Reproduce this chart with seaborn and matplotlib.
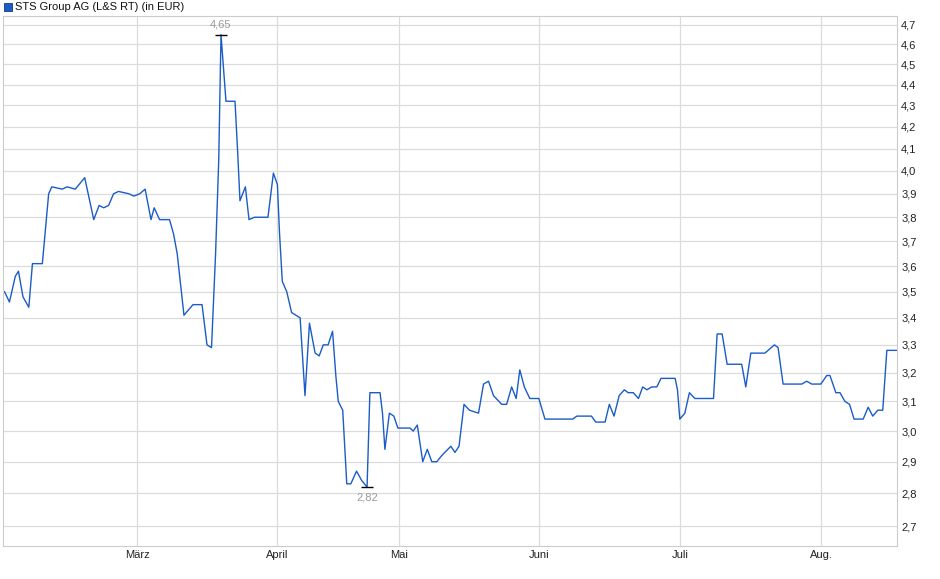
import numpy as np
import pandas as pd
import matplotlib
matplotlib.use("Agg")
import matplotlib.pyplot as plt
import seaborn as sns

# ---- data (month, fractional day of month, price in EUR) ----
months = [1, 1, 2, 2, 2, 2, 2, 2, 2, 2, 2, 2, 2, 2, 2, 2, 2, 2, 2, 2, 2, 2, 3, 3, 3, 3, 3, 3, 3, 3, 3, 3, 3, 3, 3, 3, 3, 3, 3, 3, 3, 3, 3, 3, 3, 3, 3, 3,
          4, 4, 4, 4, 4, 4, 4, 4, 4, 4, 4, 4, 4, 4, 4, 4, 4, 4, 4, 4, 4, 4, 4, 4, 4, 4, 4, 4,
          5, 5, 5, 5, 5, 5, 5, 5, 5, 5, 5, 5, 5, 5, 5, 5, 5, 5, 5, 5, 5, 5, 5, 5, 5,
          6, 6, 6, 6, 6, 6, 6, 6, 6, 6, 6, 6, 6, 6, 6, 6, 6, 6, 6, 6, 6,
          7, 7, 7, 7, 7, 7, 7, 7, 7, 7, 7, 7, 7, 7, 7, 7, 7, 7, 7, 7,
          8, 8, 8, 8, 8, 8, 8, 8, 8, 8, 8, 8, 8, 8, 8]
days = [30.6, 31.7, 2.0, 2.7, 3.7, 5.0, 5.8, 8.0, 9.4, 10.1, 12.4, 13.5, 15.3, 17.4, 19.4, 20.6, 21.6, 22.7, 23.8, 24.9, 27.2, 28.3,
        1.6, 2.8, 4.1, 4.8, 6.0, 8.2, 9.1, 9.9, 11.4, 13.4, 15.4, 16.5, 17.5, 18.4, 19.1, 19.6, 20.1, 20.7, 22.7, 23.3, 23.8, 25.0, 25.8, 27.0, 30.0, 31.2,
        1.1, 1.6, 2.3, 3.4, 4.6, 6.7, 7.9, 9.0, 10.4, 11.4, 12.4, 13.6, 14.7, 15.5, 16.1, 17.2, 18.2, 19.2, 20.6, 21.9, 23.2, 23.9, 26.4, 27.0, 27.6, 28.7, 29.8, 30.8,
        3.5, 4.2, 5.1, 6.3, 7.3, 8.3, 9.4, 10.5, 12.5, 13.4, 14.3, 15.4, 16.6, 18.6, 19.7, 20.8, 21.9, 23.7, 24.8, 25.9, 26.9, 27.7, 28.7, 29.9, 31.9,
        2.2, 8.1, 9.0, 12.1, 13.0, 15.0, 15.9, 16.9, 18.0, 19.1, 19.9, 21.0, 22.1, 23.0, 23.9, 24.9, 26.0, 26.9, 29.9, 30.4, 30.9,
        2.0, 3.0, 4.2, 8.3, 8.8, 9.1, 10.2, 11.3, 14.5, 15.4, 16.5, 19.6, 20.3, 21.7, 22.5, 23.6, 27.7, 28.8, 29.9, 31.9,
        2.2, 2.9, 4.2, 5.1, 6.2, 7.2, 8.2, 10.2, 11.3, 12.3, 13.4, 14.5, 15.4, 17.6, 17.9]
prices = [3.50, 3.46, 3.56, 3.58, 3.48, 3.44, 3.61, 3.61, 3.90, 3.93, 3.92, 3.93, 3.92, 3.97, 3.79, 3.85, 3.84, 3.85, 3.90, 3.91, 3.90, 3.89,
          3.90, 3.92, 3.79, 3.84, 3.79, 3.79, 3.73, 3.65, 3.41, 3.45, 3.45, 3.30, 3.29, 3.65, 4.05, 4.65, 4.50, 4.32, 4.32, 4.08, 3.87, 3.93, 3.79, 3.80, 3.80, 3.99,
          3.94, 3.74, 3.54, 3.50, 3.42, 3.40, 3.12, 3.38, 3.27, 3.26, 3.30, 3.30, 3.35, 3.19, 3.10, 3.07, 2.83, 2.83, 2.87, 2.84, 2.82, 3.13, 3.13, 3.06, 2.94, 3.06, 3.05, 3.01,
          3.01, 3.00, 3.02, 2.90, 2.94, 2.90, 2.90, 2.92, 2.95, 2.93, 2.95, 3.09, 3.07, 3.06, 3.16, 3.17, 3.12, 3.09, 3.09, 3.15, 3.11, 3.21, 3.15, 3.11, 3.11,
          3.04, 3.04, 3.05, 3.05, 3.03, 3.03, 3.09, 3.05, 3.12, 3.14, 3.13, 3.13, 3.11, 3.15, 3.14, 3.15, 3.15, 3.18, 3.18, 3.14, 3.04,
          3.06, 3.13, 3.11, 3.11, 3.25, 3.34, 3.34, 3.23, 3.23, 3.15, 3.27, 3.27, 3.28, 3.30, 3.29, 3.16, 3.16, 3.17, 3.16, 3.16,
          3.19, 3.19, 3.13, 3.13, 3.10, 3.09, 3.04, 3.04, 3.08, 3.05, 3.07, 3.07, 3.28, 3.28, 3.28]
month_labels = ["März", "April", "Mai", "Juni", "Juli", "Aug."]
yticks = [2.7, 2.8, 2.9, 3.0, 3.1, 3.2, 3.3, 3.4, 3.5, 3.6, 3.7, 3.8, 3.9, 4.0, 4.1, 4.2, 4.3, 4.4, 4.5, 4.6, 4.7]
title = "STS Group AG (L&S RT) (in EUR)"

# ---- layout: x-position of each month start (axis uses pixel-like units) ----
month_start_pos = {1: 10.8 - 31 * 4.51, 2: 10.8, 3: 137, 4: 277, 5: 398.7, 6: 539.3, 7: 680.3, 8: 821.3, 9: 962.4}
month_len = {1: 31, 2: 28, 3: 31, 4: 30, 5: 31, 6: 30, 7: 31, 8: 31}


def xpos(m, d):
    a, b = month_start_pos[m], month_start_pos[m + 1]
    return a + (d - 1) / month_len[m] * (b - a)


df = pd.DataFrame({"x": [xpos(m, d) for m, d in zip(months, days)], "price": prices})

sns.set_style("white")
plt.rcParams['font.family'] = ['Liberation Sans', 'DejaVu Sans']

fig = plt.figure(figsize=(9.4, 5.79), dpi=100)
ax = fig.add_axes([3 / 940, 33 / 579, 894 / 940, 530 / 579])
sns.lineplot(data=df, x="x", y="price", ax=ax, color="#1b5cc6", linewidth=1.0)

ax.set_yscale("log")
ax.set_ylim(2.642, 4.747)
ax.set_xlim(3, 897)
ax.yaxis.tick_right()
ax.set_yticks(yticks)
ax.set_yticklabels([f"{v:.1f}".replace(".", ",") for v in yticks], fontsize=8)
ax.yaxis.set_minor_locator(matplotlib.ticker.NullLocator())
ax.set_xticks([month_start_pos[m] for m in range(3, 9)])
ax.set_xticklabels(month_labels, fontsize=8)
ax.tick_params(axis="both", length=0, pad=3, colors="#222222")
ax.set_xlabel("")
ax.set_ylabel("")
ax.grid(True, color="#dcdcdc", linewidth=0.9)
for s in ax.spines.values():
    s.set_color("#cccccc")
    s.set_linewidth(0.8)

# extremes
imax = int(np.argmax(prices))
imin = int(np.argmin(prices))
for i, off, va in [(imax, 4, "bottom"), (imin, -4, "top")]:
    ax.plot(df.x[i], prices[i], marker="_", markersize=8, color="black", mew=1)
    ax.annotate(f"{prices[i]:.2f}".replace(".", ","), (df.x[i], prices[i]), xytext=(0, off),
                textcoords="offset points", ha="center", va=va, fontsize=8, color="#999999")

# legend-like title
fig.patches.append(matplotlib.patches.Rectangle((4 / 940, 1 - 11 / 579), 8 / 940, 8 / 579,
                                                transform=fig.transFigure, facecolor="#1b5cc6",
                                                edgecolor="#113a80", linewidth=0.6))
fig.text(15 / 940, 1 - 7 / 579, title, fontsize=8, va="center", ha="left", color="#111111")

fig.savefig("out.png", dpi=100)
